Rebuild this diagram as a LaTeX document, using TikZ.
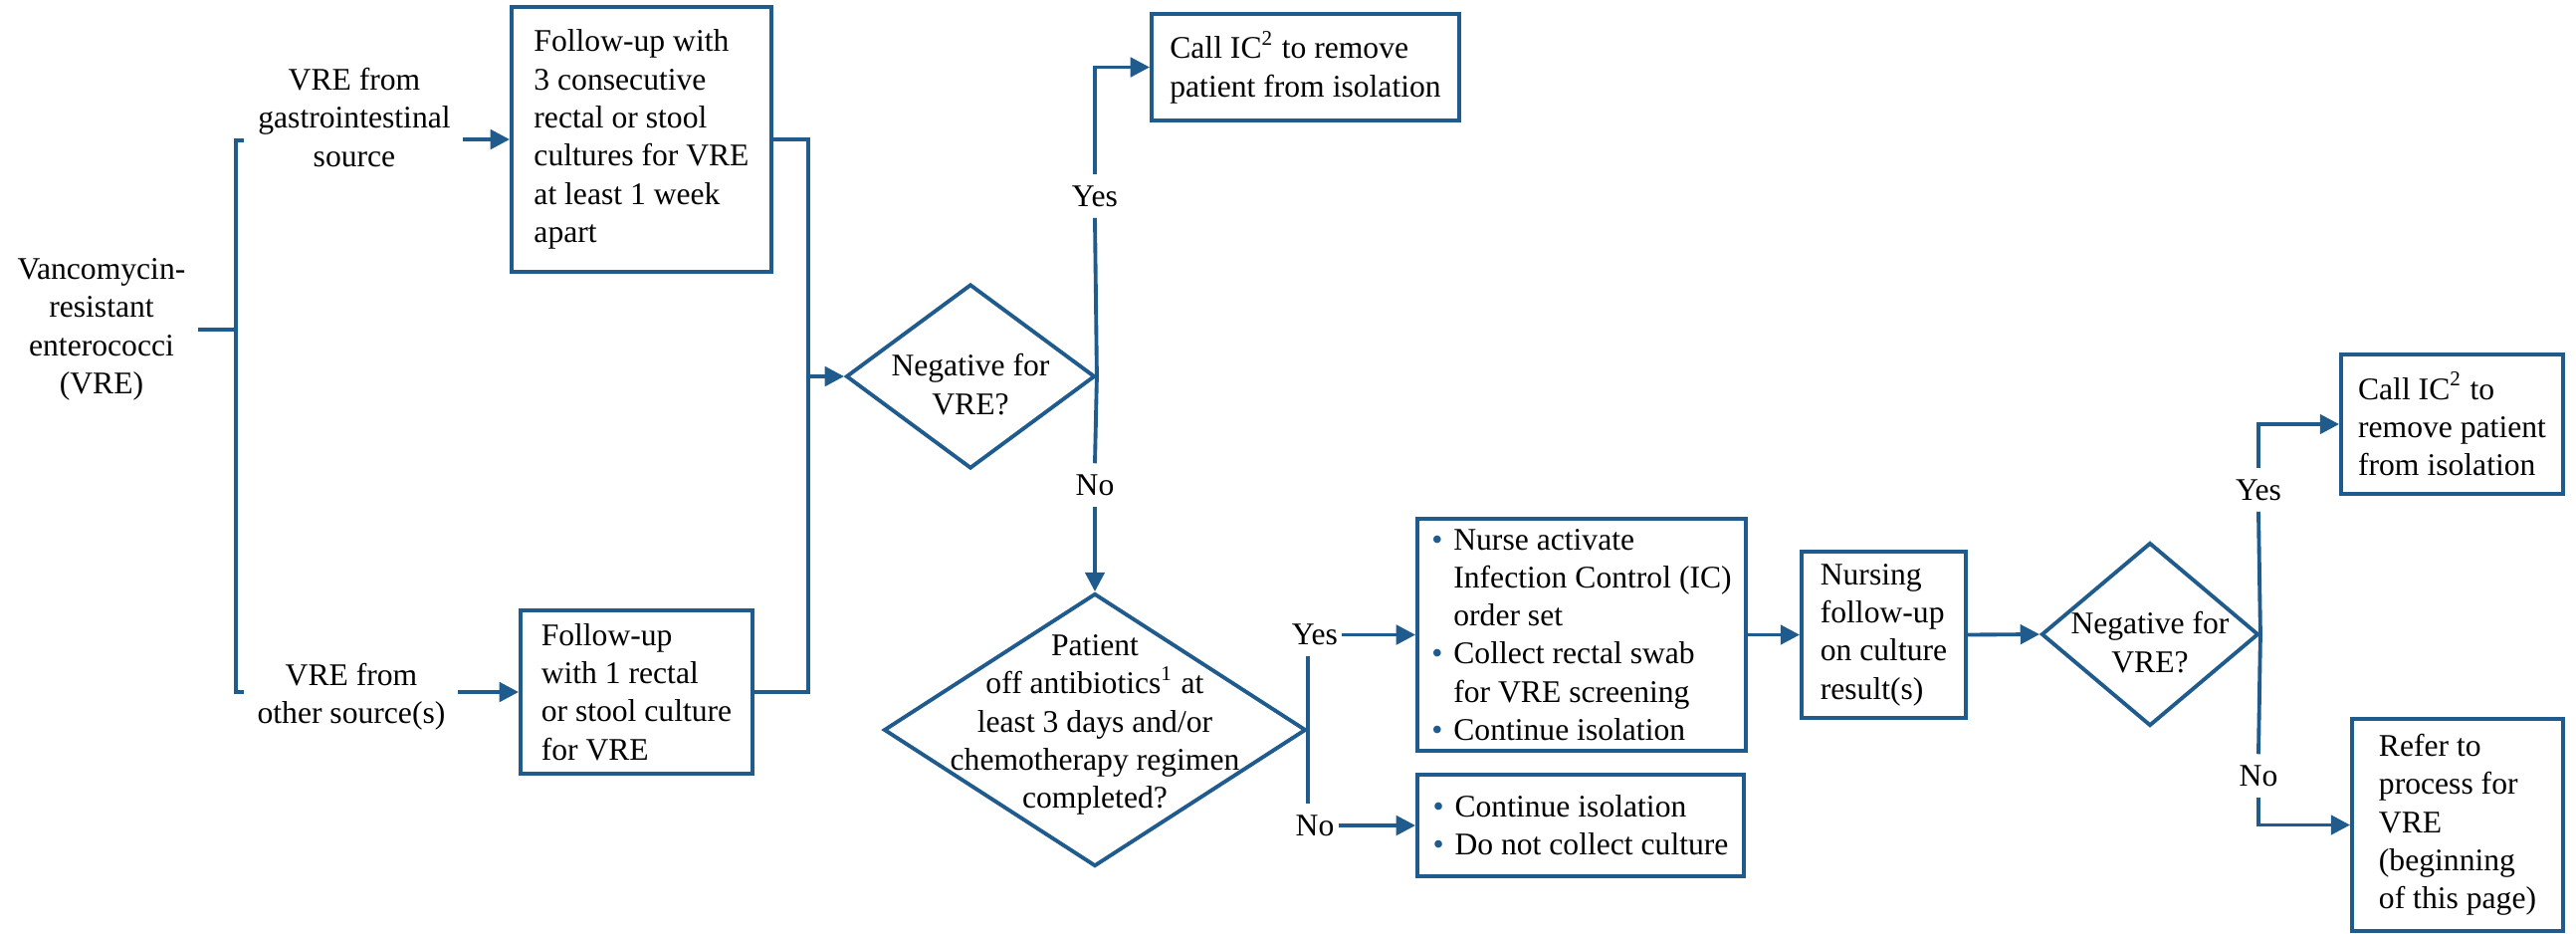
\documentclass[tikz,border=0pt]{standalone}
\usepackage{fontspec}
\setmainfont{Liberation Serif}
\usetikzlibrary{shapes.geometric, arrows.meta}
\definecolor{vreblue}{RGB}{31,91,140}
\newcommand{\itm}{\makebox[2.2mm][l]{\textcolor{vreblue}{\textbullet}}}
\newcommand{\ind}{\hspace*{2.2mm}}

\begin{document}
\begin{tikzpicture}[y=-1cm, font=\fontsize{9}{10.9}\selectfont]

\tikzset{box/.style = {shape=rectangle, draw=vreblue, line width=1.1pt, align=left, inner sep=0pt}}
\tikzset{decision/.style = {shape=diamond, draw=vreblue, line width=1.1pt, inner sep=0pt}}
\tikzset{lbl/.style = {inner xsep=1pt, inner ysep=3pt}}
\tikzset{link/.style = {draw=vreblue, line width=1.1pt}}
\tikzset{flow/.style = {link, -{Triangle[length=5.5pt,width=5.5pt]}}}
\useasboundingbox (0,0) rectangle (25.88,9.37);
%texts
\node[align=center] (vre) at (1.02,3.31) {Vancomycin-\\resistant\\enterococci\\(VRE)};
\node[align=center] (gi) at (3.56,1.18) {VRE from\\gastrointestinal\\source};
\node[align=center] (oth) at (3.53,7.00) {VRE from\\other source(s)};
\coordinate (brt) at (2.37,1.41);
\coordinate (brb) at (2.37,6.95);
\coordinate (mrg) at (8.12,3.78);
%boxes
\node[box, minimum width=2.61cm, minimum height=2.66cm] (fu3) at (6.445,1.40) {Follow-up with\\3 consecutive\\rectal or stool\\cultures for VRE\\at least 1 week\\apart};
\node[box, minimum width=2.33cm, minimum height=1.64cm] (fu1) at (6.395,6.95) {Follow-up\\with 1 rectal\\or stool culture\\for VRE};
\node[decision, minimum width=2.50cm, minimum height=1.85cm] (d1) at (9.75,3.78) {};
\node[align=center] (d1t) at (9.75,3.86) {Negative for\\VRE?};
\node[box, minimum width=3.09cm, minimum height=1.07cm] (callic) at (13.115,0.675) {Call IC\textsuperscript{2} to remove\\patient from isolation};
\node[decision, minimum width=4.24cm, minimum height=2.74cm] (d2) at (11.00,7.33) {};
\node[align=center] (d2t) at (11.00,7.28) {Patient\\off antibiotics\textsuperscript{1} at\\least 3 days and/or\\chemotherapy regimen\\completed?};
\node[box, minimum width=3.30cm, minimum height=2.33cm] (act) at (15.89,6.375) {\itm Nurse activate\\\ind Infection Control (IC)\\\ind order set\\\itm Collect rectal swab\\\ind for VRE screening\\\itm Continue isolation};
\node[box, minimum width=3.28cm, minimum height=1.02cm] (cont) at (15.88,8.29) {\itm Continue isolation\\\itm Do not collect culture};
\node[box, minimum width=1.65cm, minimum height=1.67cm] (nurs) at (18.925,6.375) {Nursing\\follow-up\\on culture\\result(s)};
\node[decision, minimum width=2.18cm, minimum height=1.84cm] (d3) at (21.60,6.37) {};
\node[align=center] (d3t) at (21.60,6.45) {Negative for\\VRE?};
\node[box, minimum width=2.23cm, minimum height=1.40cm] (callic2) at (24.635,4.26) {Call IC\textsuperscript{2} to\\remove patient\\from isolation};
\node[box, minimum width=2.12cm, minimum height=2.13cm] (refer) at (24.69,8.285) {Refer to\\process for\\VRE\\(beginning\\of this page)};
%labels
\node[lbl] (y1) at (11.00,1.97) {Yes};
\node[lbl] (n1) at (11.00,4.87) {No};
\node[lbl] (y2) at (13.21,6.375) {Yes};
\node[lbl] (n2) at (13.21,8.29) {No};
\node[lbl] (y3) at (22.69,4.92) {Yes};
\node[lbl] (n3) at (22.69,7.79) {No};
%edges
\draw[link] (vre.east) -- (vre.east -| brt);
\draw[link] ([xshift=0.08cm]brt) -- (brt) -- (brb) -- ([xshift=0.08cm]brb);
\draw[flow] (gi.east |- fu3.west) -- (fu3.west);
\draw[flow] (oth.east |- fu1.west) -- (fu1.west);
\draw[link] (fu3.east) -- (fu3.east -| mrg) -- (fu1.east -| mrg) -- (fu1.east);
\draw[flow] (mrg) -- (d1.west);
\draw[link] (d1.east) -- (y1.south);
\draw[flow] (y1.north) |- (callic.west);
\draw[link] (d1.east) -- (n1.north);
\draw[flow] (n1.south) -- (d2.north);
\draw[link] (d2.east) -- (d2.east |- y2.south);
\draw[flow] (y2.east) -- (act.west);
\draw[link] (d2.east) -- (d2.east |- n2.north);
\draw[flow] (n2.east) -- (cont.west);
\draw[flow] (act.east) -- (nurs.west);
\draw[flow] (nurs.east) -- (d3.west);
\draw[link] (d3.east) -- (y3.south);
\draw[flow] (y3.north) |- (callic2.west);
\draw[link] (d3.east) -- (n3.north);
\draw[flow] (n3.south) |- (refer.west);

\end{tikzpicture}
\end{document}
